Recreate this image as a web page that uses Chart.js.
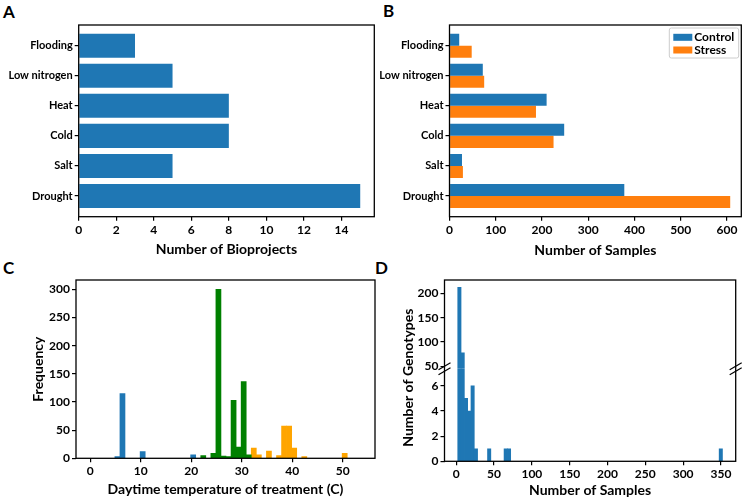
<!DOCTYPE html>
<html>
<head>
<meta charset="utf-8">
<script src="https://cdn.jsdelivr.net/npm/chart.js@4.4.0/dist/chart.umd.min.js"></script>
<style>
body { margin: 0; background: #fff; width: 744px; height: 500px; position: relative; overflow: hidden; }
canvas { position: absolute; }
.lab { position: absolute; font: bold 17px Lato, sans-serif; line-height: 1; color: #000; }
</style>
</head>
<body>
<div class="lab" style="left:3px;top:3px">A</div>
<div class="lab" style="left:383px;top:2px">B</div>
<div class="lab" style="left:3px;top:259px">C</div>
<div class="lab" style="left:375px;top:259px">D</div>
<canvas id="chartA" width="378" height="258" style="left:0px;top:0px"></canvas>
<canvas id="chartB" width="372" height="259" style="left:372px;top:0px"></canvas>
<canvas id="chartC" width="350" height="236" style="left:30px;top:262px"></canvas>
<canvas id="chartD" width="344" height="237" style="left:400px;top:262px"></canvas>
<script>
// Panels A and B: stress types, listed bottom to top
const stresses = ['Drought', 'Salt', 'Cold', 'Heat', 'Low nitrogen', 'Flooding'];
const bioprojects = [15, 5, 8, 8, 5, 3];
const controlSamples = [378, 27, 248, 210, 72, 21];
const stressSamples = [607, 29, 225, 187, 75, 48];

// Panel C: histogram of daytime temperature (bin centres, counts)
const coldTemps = [5.4, 6.4, 10.4, 20.4];
const coldFreq = [3, 115, 12, 6];
const normalTemps = [22.4, 24.4, 25.4, 26.4, 27.4, 28.4, 29.4, 30.4, 31.4];
const normalFreq = [5, 9, 300, 4, 3, 103, 20, 136, 6];
const hotTemps = [32.4, 33.4, 35.4, 37.4, 38.4, 39.4, 40.4, 42.4, 50.4];
const hotFreq = [18, 6, 13, 5, 57, 57, 18, 3, 9];

// Panel D: histogram of samples per genotype (bin centres, counts)
const sampleBins = [4.1875, 8.5625, 12.9375, 17.3125, 21.6875, 26.0625, 43.5625, 65.4375, 69.8125, 349.8125];
const genotypeCounts = [212, 78, 5, 4, 6, 1, 1, 1, 1, 1];
const lowMax = 7.35;   // lower part of the broken axis
const highMin = 45;    // upper part of the broken axis

Chart.defaults.font.family = 'Lato';
Chart.defaults.font.weight = 'bold';
Chart.defaults.color = '#000';
Chart.defaults.animation = false;
Chart.defaults.plugins.legend.display = false;
Chart.defaults.plugins.tooltip.enabled = false;

const BLUE = '#1f77b4';
const ORANGE = '#ff7f0e';

// box around the plot area
const frame = {
    id: 'frame',
    afterDraw(chart) {
        const { ctx, chartArea: a } = chart;
        ctx.save();
        ctx.strokeStyle = '#000';
        ctx.lineWidth = 1.3;
        ctx.strokeRect(a.left, a.top, a.right - a.left, a.bottom - a.top);
        ctx.restore();
    }
};

function axisX(min, max, step, title, height) {
    return {
        type: 'linear', min, max, offset: false,
        grid: { drawOnChartArea: false, offset: false, tickLength: 4, color: '#000', lineWidth: 1.2 },
        border: { display: false },
        ticks: { stepSize: step, includeBounds: false, padding: 2, font: { size: 12 } },
        title: { display: true, text: title, font: { size: 14 }, padding: 0 },
        afterFit: s => { s.height = height; }
    };
}

function axisY(min, max, step, width, extra, labels) {
    const ticks = { stepSize: step, includeBounds: false, padding: 2, font: { size: 12 } };
    if (labels) {
        ticks.callback = v => labels[v];
        ticks.font = { size: 11 };
    }
    return Object.assign({
        type: 'linear', min, max, offset: false,
        grid: { drawOnChartArea: false, offset: false, tickLength: 4, color: '#000', lineWidth: 1.2 },
        border: { display: false },
        ticks,
        afterFit: s => { s.width = width; }
    }, extra || {});
}

// A
new Chart(document.getElementById('chartA'), {
    type: 'bar',
    data: {
        datasets: [{
            data: bioprojects.map((v, i) => ({ x: v, y: i })),
            backgroundColor: BLUE,
            categoryPercentage: 0.8, barPercentage: 1
        }]
    },
    options: {
        responsive: false, indexAxis: 'y',
        layout: { padding: { top: 25, right: 3.7, left: 0, bottom: 0 } },
        scales: {
            x: axisX(0, 15.75, 2, 'Number of Bioprojects', 41.3),
            y: axisY(-0.69, 5.69, 1, 78.7, {}, stresses)
        }
    },
    plugins: [frame]
});

// B legend drawn inside the plot, top right
const legendBox = {
    id: 'legendBox',
    afterDraw(chart) {
        const { ctx, chartArea: a } = chart;
        const w = 69.4, h = 30, x = a.right - w - 2.6, y = a.top + 3;
        ctx.save();
        ctx.fillStyle = 'rgba(255,255,255,0.8)';
        ctx.strokeStyle = '#cccccc';
        ctx.lineWidth = 1;
        ctx.beginPath();
        ctx.roundRect(x, y, w, h, 2);
        ctx.fill();
        ctx.stroke();
        ctx.font = 'bold 12px Lato';
        ctx.textBaseline = 'middle';
        chart.data.datasets.forEach((ds, i) => {
            const ry = y + 9.3 + i * 12.7;
            ctx.fillStyle = ds.backgroundColor;
            ctx.fillRect(x + 4, ry - 3.5, 19, 7);
            ctx.fillStyle = '#000';
            ctx.fillText(ds.label, x + 25, ry);
        });
        ctx.restore();
    }
};

new Chart(document.getElementById('chartB'), {
    type: 'bar',
    data: {
        datasets: [
            { label: 'Control', data: controlSamples.map((v, i) => ({ x: v, y: i })), backgroundColor: BLUE, categoryPercentage: 0.8, barPercentage: 1 },
            { label: 'Stress', data: stressSamples.map((v, i) => ({ x: v, y: i })), backgroundColor: ORANGE, categoryPercentage: 0.8, barPercentage: 1 }
        ]
    },
    options: {
        responsive: false, indexAxis: 'y',
        layout: { padding: { top: 25, right: 2.7, left: 0, bottom: 0 } },
        scales: {
            x: axisX(0, 631, 100, 'Number of Samples', 42.3),
            y: axisY(-0.69, 5.69, 1, 77.5, {}, stresses)
        }
    },
    plugins: [frame, legendBox]
});

// C
const histSet = (xs, ys, color) => ({
    data: xs.map((x, i) => ({ x, y: ys[i] })),
    backgroundColor: color,
    grouped: false, categoryPercentage: 1, barPercentage: 1
});

new Chart(document.getElementById('chartC'), {
    type: 'bar',
    data: {
        datasets: [
            histSet(coldTemps, coldFreq, BLUE),
            histSet(normalTemps, normalFreq, 'green'),
            histSet(hotTemps, hotFreq, 'orange')
        ]
    },
    options: {
        responsive: false,
        layout: { padding: { top: 18, right: 5, left: 0, bottom: 0 } },
        scales: {
            x: axisX(-2.8, 56.4, 10, 'Daytime temperature of treatment (C)', 39.7),
            y: axisY(0, 316.5, 50, 46, { title: { display: true, text: 'Frequency', font: { size: 14 }, padding: 0 } })
        }
    },
    plugins: [frame]
});

// D: broken y axis made of two stacked scales
const breakMarks = {
    id: 'breakMarks',
    afterDraw(chart) {
        const { ctx, chartArea: a } = chart;
        const yb = chart.scales.yHigh.bottom;
        ctx.save();
        ctx.strokeStyle = '#000';
        ctx.lineWidth = 1.2;
        [a.left, a.right].forEach(xb => {
            [-2.5, 2.5].forEach(dy => {
                ctx.beginPath();
                ctx.moveTo(xb - 6, yb + dy + 3.5);
                ctx.lineTo(xb + 6, yb + dy - 3.5);
                ctx.stroke();
            });
        });
        ctx.font = 'bold 14px Lato';
        ctx.fillStyle = '#000';
        ctx.textAlign = 'center';
        ctx.textBaseline = 'middle';
        ctx.translate(8.7, (a.top + a.bottom) / 2 + 7);
        ctx.rotate(-Math.PI / 2);
        ctx.fillText('Number of Genotypes', 0, 0);
        ctx.restore();
    }
};

new Chart(document.getElementById('chartD'), {
    type: 'bar',
    data: {
        datasets: [
            {
                data: sampleBins.map((x, i) => ({ x, y: [0, Math.min(genotypeCounts[i], lowMax)] })),
                yAxisID: 'yLow', backgroundColor: BLUE,
                grouped: false, categoryPercentage: 1, barPercentage: 1
            },
            {
                data: sampleBins.map((x, i) => ({ x, y: genotypeCounts[i] > highMin ? [highMin, genotypeCounts[i]] : null })),
                yAxisID: 'yHigh', backgroundColor: BLUE,
                grouped: false, categoryPercentage: 1, barPercentage: 1
            }
        ]
    },
    options: {
        responsive: false,
        layout: { padding: { top: 18, right: 8.3, left: 0, bottom: 0 } },
        scales: {
            x: axisX(-15.5, 369.5, 50, 'Number of Samples', 37.7),
            yLow: axisY(0, lowMax, 2, 44.5, { position: 'left', stack: 'd', stackWeight: 92.7 }),
            yHigh: axisY(highMin, 227.3, 50, 44.5, { position: 'left', stack: 'd', stackWeight: 89 })
        }
    },
    plugins: [frame, breakMarks]
});
</script>
</body>
</html>
